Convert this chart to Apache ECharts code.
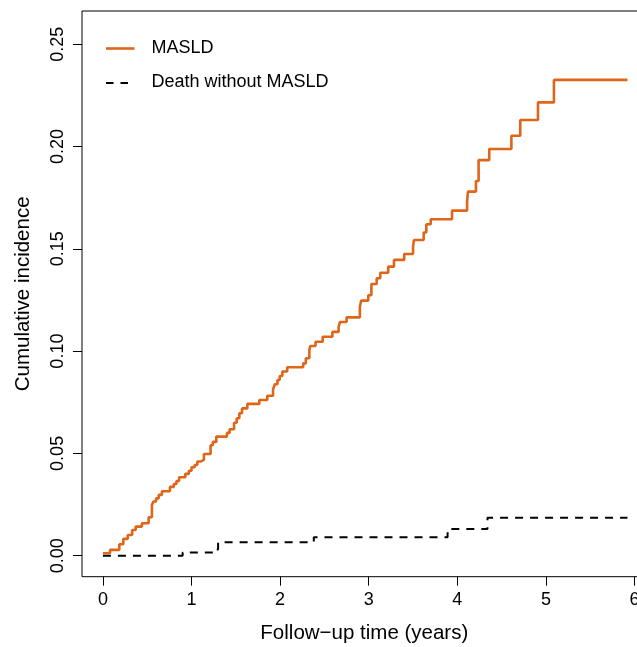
<!DOCTYPE html>
<html>
<head>
<meta charset="utf-8">
<script src="https://cdn.jsdelivr.net/npm/echarts@6/dist/echarts.min.js"></script>
<style>
html,body{margin:0;padding:0;background:#fff;}
#chart{width:637px;height:647px;}
</style>
</head>
<body>
<div id="chart"></div>
<script>
// Data (years, cumulative incidence)
const masldTime = [0, 0.08, 0.185, 0.23, 0.28, 0.33, 0.37, 0.44, 0.516, 0.553, 0.57, 0.60, 0.63, 0.666, 0.756, 0.80, 0.83, 0.86, 0.93, 0.97, 1.0, 1.035, 1.065, 1.10, 1.14, 1.215, 1.24, 1.28, 1.40, 1.43, 1.48, 1.51, 1.54, 1.57, 1.63, 1.765, 1.855, 1.92, 1.94, 1.97, 1.995, 2.025, 2.08, 2.26, 2.29, 2.33, 2.34, 2.40, 2.48, 2.59, 2.66, 2.675, 2.75, 2.90, 2.915, 2.995, 3.03, 3.09, 3.13, 3.22, 3.285, 3.40, 3.50, 3.51, 3.62, 3.65, 3.70, 3.94, 4.11, 4.12, 4.21, 4.24, 4.36, 4.61, 4.71, 4.91, 5.09, 5.92];
const masldCif = [0.0012, 0.0028, 0.0056, 0.0082, 0.0101, 0.0125, 0.0142, 0.0158, 0.0188, 0.0248, 0.0265, 0.028, 0.0297, 0.0315, 0.0336, 0.035, 0.0365, 0.0383, 0.040, 0.0415, 0.0432, 0.0443, 0.046, 0.0468, 0.0497, 0.054, 0.0556, 0.0582, 0.060, 0.0618, 0.065, 0.0672, 0.0696, 0.072, 0.0742, 0.0761, 0.0782, 0.0813, 0.0838, 0.0859, 0.0878, 0.090, 0.0921, 0.094, 0.0965, 0.1006, 0.1025, 0.1046, 0.107, 0.1094, 0.1117, 0.1142, 0.1165, 0.1217, 0.1247, 0.1273, 0.1328, 0.1356, 0.1383, 0.1413, 0.1446, 0.1475, 0.151, 0.1543, 0.158, 0.162, 0.1645, 0.1687, 0.173, 0.178, 0.1832, 0.1934, 0.1988, 0.2053, 0.213, 0.2216, 0.2326, 0.2326];
const deathTime = [0, 0.90, 1.26, 1.30, 2.38, 3.89, 4.34, 5.92];
const deathCif = [0, 0.0015, 0.003, 0.0065, 0.009, 0.013, 0.0185, 0.0185];
const xTicks = [0, 1, 2, 3, 4, 5, 6];
const yTicks = [0, 0.05, 0.10, 0.15, 0.20, 0.25];
const seriesNames = ['MASLD', 'Death without MASLD'];

const FONT = "'Liberation Sans', Arial, Helvetica, sans-serif";
const ORANGE = '#DF6518';

const zip = (a, b) => a.map((v, i) => [v, b[i]]);

const chart = echarts.init(document.getElementById('chart'), null, {renderer: 'canvas'});
chart.setOption({
  animation: false,
  backgroundColor: '#fff',
  grid: {
    left: 82, top: 11, width: 564.6, height: 565.7,
    show: true, borderColor: '#000', borderWidth: 1, backgroundColor: 'transparent',
    containLabel: false, outerBoundsMode: 'none'
  },
  xAxis: {
    type: 'value', min: -0.236, max: 6.136,
    name: 'Follow\u2212up time (years)', nameLocation: 'middle', nameGap: 46,
    nameTextStyle: {fontFamily: FONT, fontSize: 20.5, color: '#000'},
    axisLine: {show: false, onZero: false},
    axisTick: {show: true, inside: false, length: 9, lineStyle: {color: '#000', width: 1}, customValues: xTicks},
    axisLabel: {show: true, margin: 14, fontFamily: FONT, fontSize: 18, color: '#000', customValues: xTicks,
      formatter: v => String(v), showMinLabel: true, showMaxLabel: true},
    splitLine: {show: false}
  },
  yAxis: {
    type: 'value', min: -0.0103, max: 0.2663,
    name: 'Cumulative incidence', nameLocation: 'middle', nameGap: 48, nameRotate: 90,
    nameTextStyle: {fontFamily: FONT, fontSize: 20.5, color: '#000'},
    axisLine: {show: false, onZero: false},
    axisTick: {show: true, inside: false, length: 9, lineStyle: {color: '#000', width: 1}, customValues: yTicks},
    axisLabel: {show: true, margin: 15, rotate: 90, fontFamily: FONT, fontSize: 18, color: '#000', customValues: yTicks,
      formatter: v => v.toFixed(2), showMinLabel: true, showMaxLabel: true},
    splitLine: {show: false}
  },
  series: [
    {
      name: seriesNames[0], type: 'line', step: 'end', showSymbol: false, symbol: 'none',
      data: zip(masldTime, masldCif),
      lineStyle: {color: ORANGE, width: 2.6}, z: 3
    },
    {
      name: seriesNames[1], type: 'line', step: 'end', showSymbol: false, symbol: 'none',
      data: zip(deathTime, deathCif),
      lineStyle: {color: '#000', width: 2, type: [8, 7]}, z: 2
    }
  ],
  graphic: [
    {type: 'line', shape: {x1: 106, y1: 48.5, x2: 134.5, y2: 48.5}, style: {stroke: ORANGE, lineWidth: 2.6}},
    {type: 'text', left: 151.5, top: 39, style: {text: seriesNames[0], font: '18px ' + FONT, fill: '#000'}},
    {type: 'line', shape: {x1: 106, y1: 83, x2: 128, y2: 83}, style: {stroke: '#000', lineWidth: 2, lineDash: [7.5, 7]}},
    {type: 'text', left: 151.5, top: 73.5, style: {text: seriesNames[1], font: '18px ' + FONT, fill: '#000'}}
  ]
});
</script>
</body>
</html>
